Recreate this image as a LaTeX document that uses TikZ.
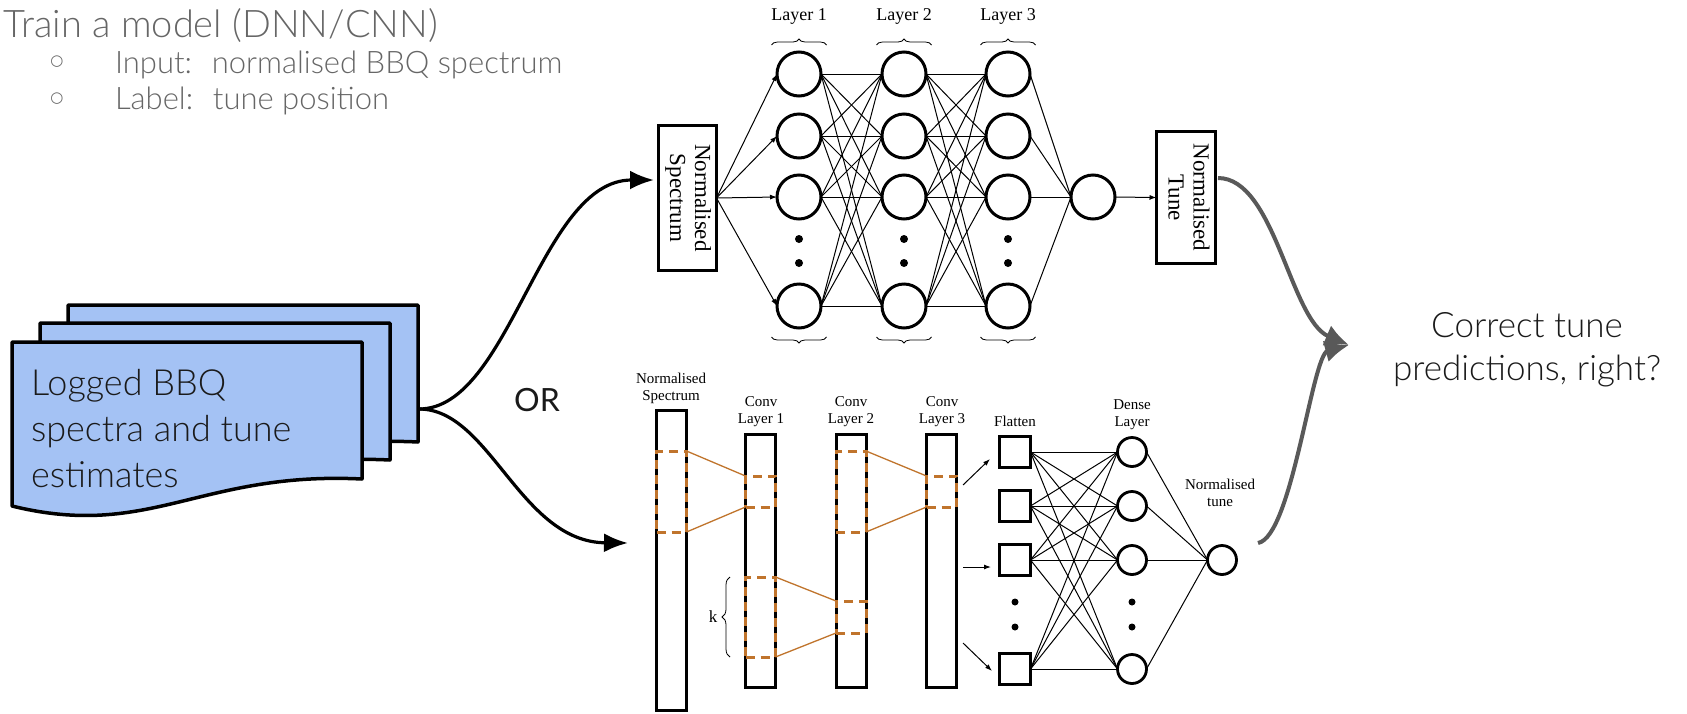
\documentclass[tikz,border=0pt]{standalone}
\usepackage{fontspec}
\setmainfont{Liberation Serif}
\IfFontExistsTF{Lato Light}{\newfontfamily\gfont{Lato Light}}{\newfontfamily\gfont{Lato}}
\newfontfamily\gfontreg{Lato}
\newfontfamily\dejavu{DejaVu Sans}
\usetikzlibrary{arrows.meta,decorations.pathreplacing,calc}
\definecolor{docblue}{HTML}{A4C2F4}
\definecolor{rfor}{RGB}{192,116,44}
\definecolor{slidegrey}{HTML}{666666}
\definecolor{arrgrey}{HTML}{595959}
\definecolor{txtblack}{HTML}{1A1A1A}
\begin{document}
\begin{tikzpicture}[x=1pt,y=-1pt,
  every node/.style={inner sep=0pt,outer sep=0pt},
  neuron/.style={circle,draw,line width=3pt,minimum size=44pt},
  sneuron/.style={circle,draw,line width=2.8pt,minimum size=29pt},
  sq/.style={rectangle,draw,line width=3pt,minimum size=31pt},
  vbox/.style={rectangle,draw,line width=3pt,font=\fontsize{23}{25}\selectfont},
  bar/.style={rectangle,draw,line width=3pt,minimum width=30pt},
  rf/.style={rectangle,draw=rfor,line width=3pt,dash pattern=on 9pt off 6pt,minimum width=30pt},
  rfline/.style={draw=rfor,line width=1.3pt},
  wire/.style={line width=1pt},
  warrow/.style={line width=1pt,-{Latex[length=7pt,width=5pt]}},
  bigarrow/.style={line width=3.2pt,-{Latex[length=24pt,width=19pt]}},
  greyarrow/.style={draw=arrgrey,line width=4pt,-{Latex[length=24pt,width=22pt]}},
  dotn/.style={circle,fill,minimum size=8pt},
  sdot/.style={circle,fill,minimum size=7pt},
  doc/.style={fill=docblue,draw=black,line width=3.5pt,line join=round},
  lab/.style={font=\fontsize{18}{20}\selectfont},
  slab/.style={font=\fontsize{15}{17}\selectfont,align=center},
  brc/.style={decorate,decoration={brace,amplitude=6pt},line width=0.8pt},
  bullet/.style={text=slidegrey,font=\dejavu\fontsize{15}{16}\selectfont},
  btext/.style={anchor=base west,text=slidegrey,font=\gfont\fontsize{31}{34}\selectfont},
]
\fill[white] (0,0) rectangle (1687,713);
\useasboundingbox (0,0) rectangle (1687,713);

% ---------- slide text ----------
\node[anchor=base west,text=slidegrey,font=\gfont\fontsize{38}{42}\selectfont] (title) at (4,37) {Train a model (DNN/CNN)};
\node[bullet] (b1) at (57,62) {○};
\node[bullet] (b2) at (57,99) {○};
\node[btext] (in) at (115,73) {Input:~ normalised BBQ spectrum};
\node[btext] (lb) at (115,109) {Label:~ tune position};

% ---------- document stack ----------
\foreach \dx/\dy in {68/305,40/323,12/342}{
  \begin{scope}[shift={(\dx,\dy)}]
    \draw[doc] (0,0) -- (350,0) -- (350,137) .. controls (188,129) and (138,198) .. (0,164) -- cycle;
  \end{scope}
}
\node[anchor=north west,align=left,text=txtblack,font=\gfont\fontsize{36}{46}\selectfont] (doctext) at (31,369) {Logged BBQ\\spectra and tune\\estimates};
\coordinate (docout) at (419,409);
\node[font=\gfontreg\fontsize{32}{36}\selectfont,text=txtblack] (or) at (537,400) {OR};

% ---------- top network ----------
\node[vbox,minimum width=58pt,minimum height=145pt] (spec) at (687.5,198)
  {\rotatebox{-90}{\begin{tabular}{@{}c@{}}Normalised\\Spectrum\end{tabular}}};
\node[vbox,minimum width=59pt,minimum height=132pt] (tune) at (1186,197.5)
  {\rotatebox{-90}{\begin{tabular}{@{}c@{}}Normalised\\Tune\end{tabular}}};
\foreach \c/\x in {1/799,2/904,3/1008}{
  \foreach \r/\y in {1/74,2/136,3/197,5/306}{
    \node[neuron] (n\c\r) at (\x,\y) {};
  }
  \node[dotn] (dt\c-a) at (\x,239) {};
  \node[dotn] (dt\c-b) at (\x,263) {};
  \node[lab] (lay\c) at (\x,16) {Layer \c};
  \draw[brc] (\x-27.5,45) -- (\x+27.5,45);
  \draw[brc] (\x+27.5,337) -- (\x-27.5,337);
}
\node[neuron] (out) at (1093,197) {};
\foreach \r in {1,2,3,5}{
  \draw[warrow] (spec.east) -- (n1\r.west);
  \draw[wire] (n3\r.east) -- (out.west);
  \foreach \s in {1,2,3,5}{
    \draw[wire] (n1\r.east) -- (n2\s.west);
    \draw[wire] (n2\r.east) -- (n3\s.west);
  }
}
\draw[warrow] (out.east) -- (tune.west);

% ---------- bottom CNN ----------
\node[slab] (lin) at (671,388) {Normalised\\Spectrum};
\node[slab] (lc1) at (761,411.5) {Conv\\Layer 1};
\node[slab] (lc2) at (851,411.5) {Conv\\Layer 2};
\node[slab] (lc3) at (942,411.5) {Conv\\Layer 3};
\node[slab] (lfl) at (1015,421) {Flatten};
\node[slab] (lde) at (1132,415) {Dense\\Layer};
\node[slab] (lnt) at (1220,492.5) {Normalised\\tune};

\node[bar,minimum height=299.5pt] (inp) at (671.5,560.25) {};
\node[bar,minimum height=253pt] (cv1) at (760.5,561) {};
\node[bar,minimum height=253pt] (cv2) at (851,561) {};
\node[bar,minimum height=253pt] (cv3) at (941.5,561) {};

\node[rf,minimum height=81pt] (rf0) at (671.5,491.5) {};
\node[rf,minimum height=31pt] (rf1a) at (760.5,491.5) {};
\node[rf,minimum height=80pt] (rf1b) at (760.5,617) {};
\node[rf,minimum height=81pt] (rf2a) at (851,491.5) {};
\node[rf,minimum height=32pt] (rf2b) at (851,617) {};
\node[rf,minimum height=31pt] (rf3) at (941.5,491.5) {};
\draw[rfline] (rf0.north east) -- (rf1a.north west);
\draw[rfline] (rf0.south east) -- (rf1a.south west);
\draw[rfline] (rf1b.north east) -- (rf2b.north west);
\draw[rfline] (rf1b.south east) -- (rf2b.south west);
\draw[rfline] (rf2a.north east) -- (rf3.north west);
\draw[rfline] (rf2a.south east) -- (rf3.south west);
\draw[brc,decoration={brace,amplitude=8pt}] (730,657) -- (730,577);
\node[font=\fontsize{17}{19}\selectfont] (k) at (713,617) {k};

\foreach \r/\y in {1/452,2/506,3/560,5/669}{
  \node[sq] (fl\r) at (1015,\y) {};
  \node[sneuron] (dn\r) at (1132,\y) {};
}
\node[sdot] (fd1) at (1015,602) {};
\node[sdot] (fd2) at (1015,627) {};
\node[sdot] (dd1) at (1132,602) {};
\node[sdot] (dd2) at (1132,627) {};
\node[sneuron] (out2) at (1222,560) {};
\foreach \r in {1,2,3,5}{
  \foreach \s in {1,2,3,5}{
    \draw[wire] (fl\r.east) -- (dn\s.west);
  }
  \draw[wire] (dn\r.east) -- (out2.west);
}
\coordinate (ca1) at (963,485); \coordinate (fa1) at (990,459);
\coordinate (ca2) at (963,567); \coordinate (fa2) at (991,567);
\coordinate (ca3) at (963,643); \coordinate (fa3) at (992,671);
\draw[warrow] (ca1) -- (fa1);
\draw[warrow] (ca2) -- (fa2);
\draw[warrow] (ca3) -- (fa3);

% ---------- big connectors ----------
\coordinate (tipA) at (654,180);
\coordinate (tipB) at (628,543);
\draw[bigarrow] (docout) .. controls (510,409) and (540,180) .. (tipA);
\draw[bigarrow] (docout) .. controls (490,409) and (520,542) .. (tipB);

\node[font=\gfont\fontsize{35}{43}\selectfont,align=center,text=txtblack] (res) at (1527,350) {Correct tune\\predictions, right?};
\coordinate (tgt) at (1349,345);
\coordinate (gs1) at (1218,178);
\coordinate (gs2) at (1258,543);
\draw[greyarrow] (gs1) .. controls (1275,178) and (1290,320) .. (tgt);
\draw[greyarrow] (gs2) .. controls (1292,537) and (1312,355) .. (tgt);
\end{tikzpicture}
\end{document}
